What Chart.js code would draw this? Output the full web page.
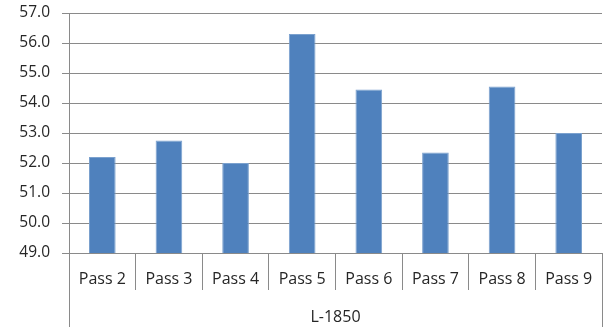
<!DOCTYPE html>
<html>
<head>
<meta charset="utf-8">
<script src="https://cdn.jsdelivr.net/npm/chart.js@4/dist/chart.umd.min.js"></script>
<style>
  html, body { margin: 0; padding: 0; background: #ffffff; overflow: hidden; }
  canvas { display: block; }
</style>
</head>
<body>
<canvas id="c" width="604" height="327"></canvas>
<script>
// Measurements per pass
const passes = ['Pass 2', 'Pass 3', 'Pass 4', 'Pass 5', 'Pass 6', 'Pass 7', 'Pass 8', 'Pass 9'];
const values = [52.2, 52.75, 52.0, 56.3, 54.45, 52.35, 54.55, 53.0];
const groupLabel = 'L-1850';
const yMin = 49, yMax = 57, yStep = 1;

const lineGray = '#8a8a8a';
const textColor = '#262626';
const fontFamily = '"Open Sans", sans-serif';

// Extends the outer category separators down to the bottom of the canvas
const groupFrame = {
  id: 'groupFrame',
  afterDraw(chart) {
    const { ctx, chartArea, scales } = chart;
    const x = scales.x;
    const left = Math.round(x.getPixelForValue(-0.5)) + 0.5;
    const right = Math.round(x.getPixelForValue(passes.length - 0.5)) + 0.5;
    ctx.save();
    ctx.strokeStyle = lineGray;
    ctx.lineWidth = 1;
    ctx.beginPath();
    ctx.moveTo(left, chartArea.bottom);
    ctx.lineTo(left, chart.height);
    ctx.moveTo(right, chartArea.bottom);
    ctx.lineTo(right, chart.height);
    ctx.stroke();
    ctx.restore();
  }
};

new Chart(document.getElementById('c'), {
  type: 'bar',
  data: {
    labels: passes,
    datasets: [{
      data: values,
      backgroundColor: '#4F81BD',
      borderColor: '#7BA1CE',
      borderWidth: 1,
      barPercentage: 0.4,
      categoryPercentage: 1.0
    }]
  },
  options: {
    responsive: false,
    animation: false,
    devicePixelRatio: 1,
    layout: { padding: { top: 13, right: 2, left: 0, bottom: 0 } },
    plugins: {
      legend: { display: false },
      tooltip: { enabled: false }
    },
    scales: {
      x: {
        offset: true,
        grid: {
          offset: true,
          drawOnChartArea: false,
          drawTicks: true,
          tickLength: 37,
          tickColor: lineGray,
          color: lineGray
        },
        border: { display: true, color: lineGray },
        ticks: {
          color: textColor,
          font: { family: fontFamily, size: 16 },
          padding: -20,
          maxRotation: 0,
          autoSkip: false
        },
        title: {
          display: true,
          text: groupLabel,
          color: textColor,
          font: { family: fontFamily, size: 16 },
          padding: { top: 0, bottom: 0 }
        },
        afterFit(scale) {
          scale.height = 74;
          scale.paddingLeft = 0;
          scale.paddingRight = 0;
        }
      },
      y: {
        min: yMin,
        max: yMax,
        grid: {
          color: lineGray,
          tickColor: lineGray,
          tickLength: 7
        },
        border: { display: true, color: lineGray },
        ticks: {
          stepSize: yStep,
          color: textColor,
          font: { family: fontFamily, size: 15.5 },
          padding: 12,
          callback: v => Number(v).toFixed(1)
        },
        afterFit(scale) {
          scale.width = 69;
          scale.paddingTop = 0;
          scale.paddingBottom = 0;
        }
      }
    }
  },
  plugins: [groupFrame]
});
</script>
</body>
</html>
